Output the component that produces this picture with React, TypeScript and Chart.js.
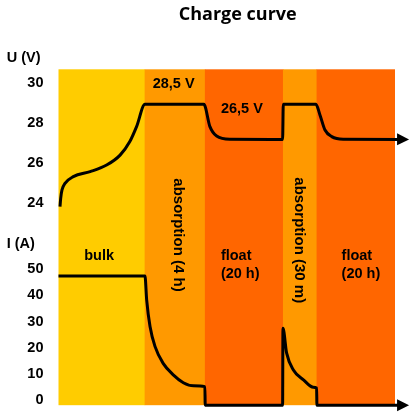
import React, { useEffect, useRef } from 'react';
import { Chart, registerables } from 'chart.js';

Chart.register(...registerables);

// ---- data ----
const PHASE_NAMES = ['bulk', 'absorption (4 h)', 'float (20 h)', 'absorption (30 m)', 'float (20 h)'];
const PHASE_BOUNDS = [0, 25.6, 43.5, 66.7, 76.7, 100];

const VOLTAGE_TIME = [0.45, 0.65, 1.04, 1.93, 4.4, 9.4, 14.3, 18.3, 21.2, 23.2, 25.7, 43.2, 45.0, 47.0, 51.0, 66.6, 66.8, 76.5, 77.7, 79.2, 81.2, 84.6, 102.4];
const VOLTAGE_U = [23.8, 24.22, 24.64, 24.97, 25.31, 25.56, 25.89, 26.39, 27.07, 27.82, 28.94, 28.94, 27.82, 27.35, 27.19, 27.18, 28.94, 28.94, 28.41, 27.65, 27.32, 27.19, 27.18];

const CURRENT_TIME = [0, 25.7, 26.2, 27.2, 28.7, 31.1, 34.1, 37.1, 40.1, 43.5, 43.6, 66.6, 66.7, 67.8, 69.8, 72.8, 75.7, 76.7, 76.8, 102.4];
const CURRENT_I = [47.4, 47.4, 38.3, 28.1, 20.4, 14.0, 9.6, 6.6, 5.4, 5.1, -2, -2, 27.4, 17.9, 11.5, 7.7, 4.9, 4.6, -2, -2];

const U_TICKS = [24, 26, 28, 30];
const I_TICKS = [0, 10, 20, 30, 40, 50];

const FLOAT_VOLTAGE_LABEL = '26,5 V';
const ABSORPTION_VOLTAGE_LABEL = '28,5 V';
const TITLE = 'Charge curve';
const U_TITLE = 'U (V)';
const I_TITLE = 'I (A)';

// ---- styles ----
const PHASE_COLORS = ['#FFCC00', '#FF9900', '#FF6600', '#FF9900', '#FF6600'];
const FONT = "'Liberation Sans', Arial, Helvetica, sans-serif";
const TEXT_FONT = `bold 14.5px ${FONT}`;
const ROT_FONT = `bold 15px ${FONT}`;

const overlayPlugin = {
  id: 'overlay',
  beforeDatasetsDraw(chart: any) {
    const { ctx, chartArea } = chart;
    const xs = chart.scales.x;
    ctx.save();
    for (let i = 0; i < PHASE_COLORS.length; i++) {
      const x0 = xs.getPixelForValue(PHASE_BOUNDS[i]);
      const x1 = xs.getPixelForValue(PHASE_BOUNDS[i + 1]);
      ctx.fillStyle = PHASE_COLORS[i];
      ctx.fillRect(x0, chartArea.top, x1 - x0 + (i < PHASE_COLORS.length - 1 ? 0.5 : 0), chartArea.bottom - chartArea.top);
    }
    ctx.restore();
  },
  afterDatasetsDraw(chart: any) {
    const { ctx } = chart;
    const xs = chart.scales.x;
    const yU = chart.scales.yU;
    const yI = chart.scales.yI;
    const bx = (i: number) => xs.getPixelForValue(PHASE_BOUNDS[i]);
    ctx.save();
    ctx.fillStyle = '#000';

    // arrow heads at the end of each line
    chart.data.datasets.forEach((_: any, di: number) => {
      const meta = chart.getDatasetMeta(di);
      const pts = meta.data;
      const p = pts[pts.length - 1];
      const q = pts[pts.length - 2];
      const ang = Math.atan2(p.y - q.y, p.x - q.x);
      const len = 12;
      const half = 6;
      ctx.save();
      ctx.translate(p.x, p.y);
      ctx.rotate(ang);
      ctx.beginPath();
      ctx.moveTo(len / 2, 0);
      ctx.lineTo(-len / 2, -half);
      ctx.lineTo(-len / 2, half);
      ctx.closePath();
      ctx.fill();
      ctx.restore();
    });

    // title
    ctx.font = `bold 18px 'Open Sans', ${FONT}`;
    ctx.textAlign = 'center';
    ctx.textBaseline = 'alphabetic';
    ctx.fillText(TITLE, 237.7, 19.5);

    ctx.font = TEXT_FONT;
    ctx.textBaseline = 'middle';
    ctx.textAlign = 'left';
    ctx.fillText(U_TITLE, 6.7, yU.getPixelForValue(30) - 25);
    ctx.fillText(I_TITLE, 6.7, yI.getPixelForValue(50) - 25.3);

    ctx.fillText(ABSORPTION_VOLTAGE_LABEL, bx(1) + 8, yU.getPixelForValue(30) + 0.7);
    ctx.fillText(FLOAT_VOLTAGE_LABEL, bx(2) + 16, yU.getPixelForValue(28.94) + 4.5);

    // bulk
    ctx.textAlign = 'center';
    ctx.fillText(PHASE_NAMES[0], (bx(0) + bx(1)) / 2 - 2.5, 255.5);

    // floats
    ctx.textAlign = 'left';
    const floatParts = (s: string) => {
      const k = s.indexOf(' ');
      return [s.slice(0, k), s.slice(k + 1)];
    };
    const f1 = floatParts(PHASE_NAMES[2]);
    ctx.fillText(f1[0], bx(2) + 16, 255.5);
    ctx.fillText(f1[1], bx(2) + 16, 273.5);
    const f2 = floatParts(PHASE_NAMES[4]);
    ctx.fillText(f2[0], bx(4) + 25, 255.5);
    ctx.fillText(f2[1], bx(4) + 25, 273.5);

    // rotated absorption labels
    ctx.font = ROT_FONT;
    const rot = (text: string, x: number, y: number) => {
      ctx.save();
      ctx.translate(x, y);
      ctx.rotate(Math.PI / 2);
      ctx.textAlign = 'left';
      ctx.textBaseline = 'middle';
      ctx.fillText(text, 0, 0);
      ctx.restore();
    };
    rot(PHASE_NAMES[1], (bx(1) + bx(2)) / 2 + 3.2, 178.3);
    rot(PHASE_NAMES[3], (bx(3) + bx(4)) / 2 - 0.5, 177.3);

    ctx.restore();
  },
};

export default function App() {
  const ref = useRef<HTMLCanvasElement | null>(null);

  useEffect(() => {
    if (!ref.current) return;
    const tickFont = { family: FONT, size: 14.5, weight: 'bold' as const };
    const commonAxis = {
      type: 'linear' as const,
      position: 'left' as const,
      stack: 'uc',
      grid: { display: false, drawTicks: false },
      border: { display: false },
      ticks: { padding: 15, color: '#000', font: tickFont, autoSkip: false },
      afterFit: (s: any) => {
        s.width = 58.5;
        s.paddingTop = 0;
        s.paddingBottom = 0;
      },
    };
    const lineStyle = {
      borderColor: '#000',
      backgroundColor: '#000',
      borderWidth: 3,
      cubicInterpolationMode: 'monotone',
      pointRadius: 0,
      clip: false,
      borderJoinStyle: 'round',
    };
    const chart = new Chart(ref.current, {
      type: 'line',
      data: {
        datasets: [
          {
            label: 'U',
            yAxisID: 'yU',
            data: VOLTAGE_TIME.map((t, i) => ({ x: t, y: VOLTAGE_U[i] })),
            ...lineStyle,
          } as any,
          {
            label: 'I',
            yAxisID: 'yI',
            data: CURRENT_TIME.map((t, i) => ({ x: t, y: CURRENT_I[i] })),
            ...lineStyle,
          } as any,
        ],
      },
      options: {
        animation: false,
        responsive: false,
        events: [],
        layout: { padding: { left: 0, top: 69.3, right: 21, bottom: 10.8 } },
        plugins: { legend: { display: false }, tooltip: { enabled: false }, title: { display: false } },
        scales: {
          x: { type: 'linear', min: 0, max: 100, display: false },
          yI: {
            ...commonAxis,
            stackWeight: 183.2,
            min: -2,
            max: 68.08,
            afterBuildTicks: (s: any) => {
              s.ticks = I_TICKS.map((v) => ({ value: v }));
            },
          },
          yU: {
            ...commonAxis,
            stackWeight: 152.7,
            min: 23.03,
            max: 30.7,
            afterBuildTicks: (s: any) => {
              s.ticks = U_TICKS.map((v) => ({ value: v }));
            },
          },
        } as any,
      },
      plugins: [overlayPlugin],
    });
    return () => chart.destroy();
  }, []);

  return (
    <div style={{ position: 'fixed', left: 0, top: 0, width: 416, height: 416, background: '#fff' }}>
      <canvas ref={ref} width={416} height={416} style={{ display: 'block', width: 416, height: 416 }} />
    </div>
  );
}
